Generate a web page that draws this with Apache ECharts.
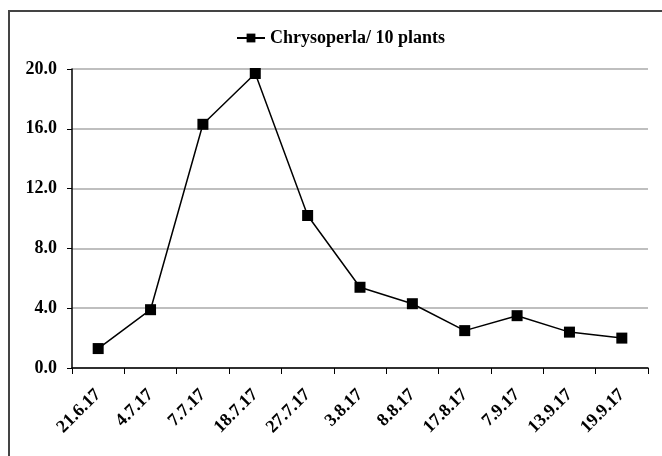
<!DOCTYPE html>
<html>
<head>
<meta charset="utf-8">
<script src="https://cdn.jsdelivr.net/npm/echarts@6/dist/echarts.min.js"></script>
<style>
  html, body { margin: 0; padding: 0; background: #fff; overflow: hidden; }
  #frame { position: absolute; left: 8px; top: 10px; width: 670px; height: 470px; border: 2px solid #444; box-sizing: border-box; }
  #main { position: absolute; left: 0; top: 0; width: 662px; height: 456px; }
</style>
</head>
<body>
<div id="frame"></div>
<div id="main"></div>
<script>
// sampling dates and counts
var dates = ['21.6.17', '4.7.17', '7.7.17', '18.7.17', '27.7.17', '3.8.17', '8.8.17', '17.8.17', '7.9.17', '13.9.17', '19.9.17'];
var chrysoperla = [1.3, 3.9, 16.3, 19.7, 10.2, 5.4, 4.3, 2.5, 3.5, 2.4, 2.0];
var yTicks = { min: 0, max: 20, step: 4 };

var chart = echarts.init(document.getElementById('main'));
var serif = '"Liberation Serif", "DejaVu Serif", serif';

var option = {
    animation: false,
    legend: {
        left: 231,
        top: 24,
        itemWidth: 28,
        itemHeight: 11,
        textStyle: { fontFamily: serif, fontWeight: 'bold', fontSize: 18, color: '#000' },
        data: ['Chrysoperla/ 10 plants']
    },
    grid: { left: 72, right: 14, top: 69, bottom: 88 },
    xAxis: {
        type: 'category',
        data: dates,
        boundaryGap: true,
        axisLine: { lineStyle: { color: '#000', width: 1.5 } },
        axisTick: { show: true, interval: 0, length: 6, lineStyle: { color: '#000' } },
        axisLabel: {
            interval: 0,
            rotate: 45,
            margin: 24,
            fontFamily: serif,
            fontWeight: 'bold',
            fontSize: 18,
            color: '#000'
        }
    },
    yAxis: {
        type: 'value',
        min: yTicks.min,
        max: yTicks.max,
        interval: yTicks.step,
        axisLine: { show: true, lineStyle: { color: '#000', width: 1.5 } },
        axisTick: { show: true, length: 5, lineStyle: { color: '#000' } },
        axisLabel: {
            margin: 15,
            fontFamily: serif,
            fontWeight: 'bold',
            fontSize: 18,
            color: '#000',
            formatter: function (v) { return v.toFixed(1); }
        },
        splitLine: { lineStyle: { color: '#aaa', width: 1.5 } }
    },
    series: [{
        name: 'Chrysoperla/ 10 plants',
        type: 'line',
        data: chrysoperla,
        symbol: 'rect',
        symbolSize: 11,
        lineStyle: { color: '#000', width: 1.5 },
        itemStyle: { color: '#000' }
    }]
};

chart.setOption(option);
</script>
</body>
</html>
